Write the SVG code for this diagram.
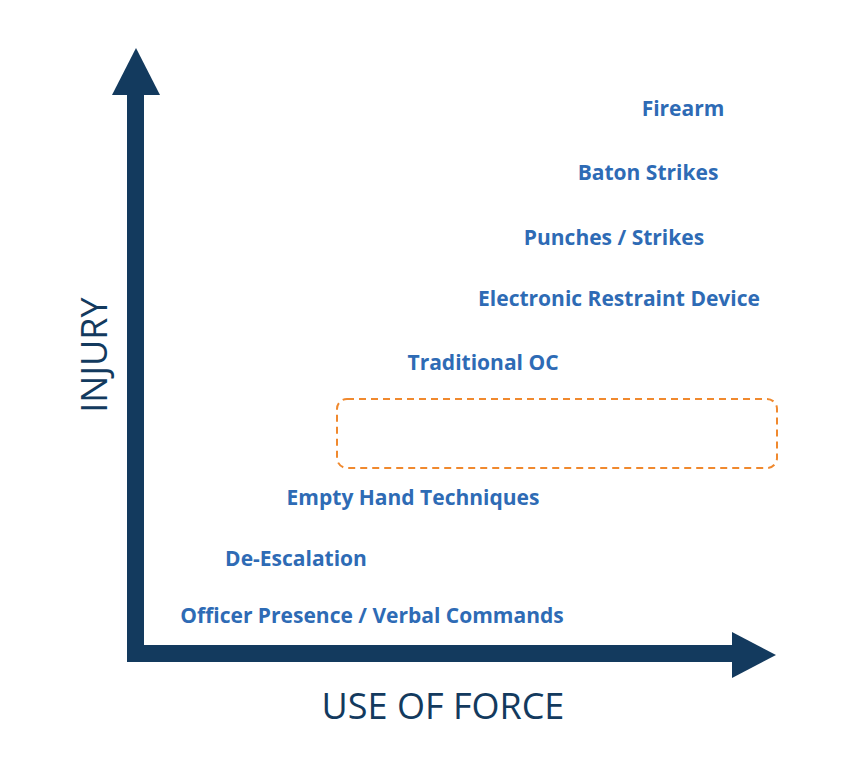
<svg xmlns="http://www.w3.org/2000/svg" width="860" height="769" viewBox="0 0 860 769">
<style>
.l{font-family:"Open Sans","Liberation Sans",sans-serif;font-weight:bold;font-size:21px;fill:#2e6bb5}
.ax{font-family:"Open Sans","Liberation Sans",sans-serif;font-size:36px;fill:#133a5e}
</style>
<rect width="860" height="769" fill="#fff"/>
<g id="axes" fill="#133a5e">
<rect x="127" y="90" width="17" height="572"/>
<polygon points="112,95 160,95 136,48"/>
<rect x="127" y="645" width="610" height="17"/>
<polygon points="732,632 732,678 776,655"/>
</g>
<text class="ax" x="443" y="719" text-anchor="middle">USE OF FORCE</text>
<text class="ax" transform="translate(107,355) rotate(-90)" text-anchor="middle">INJURY</text>
<rect id="box" x="337" y="399" width="440" height="69" rx="10" fill="none" stroke="#f0892e" stroke-width="2" stroke-dasharray="7,5"/>
<g id="labels">
<text class="l" x="683" y="116" text-anchor="middle">Firearm</text>
<text class="l" x="648" y="180" text-anchor="middle">Baton Strikes</text>
<text class="l" x="614" y="245" text-anchor="middle">Punches / Strikes</text>
<text class="l" x="619" y="306" text-anchor="middle">Electronic Restraint Device</text>
<text class="l" x="483" y="370" text-anchor="middle">Traditional OC</text>
<text class="l" x="413" y="505" text-anchor="middle">Empty Hand Techniques</text>
<text class="l" x="296" y="566" text-anchor="middle">De-Escalation</text>
<text class="l" x="372" y="623" text-anchor="middle">Officer Presence / Verbal Commands</text>
</g>
</svg>
